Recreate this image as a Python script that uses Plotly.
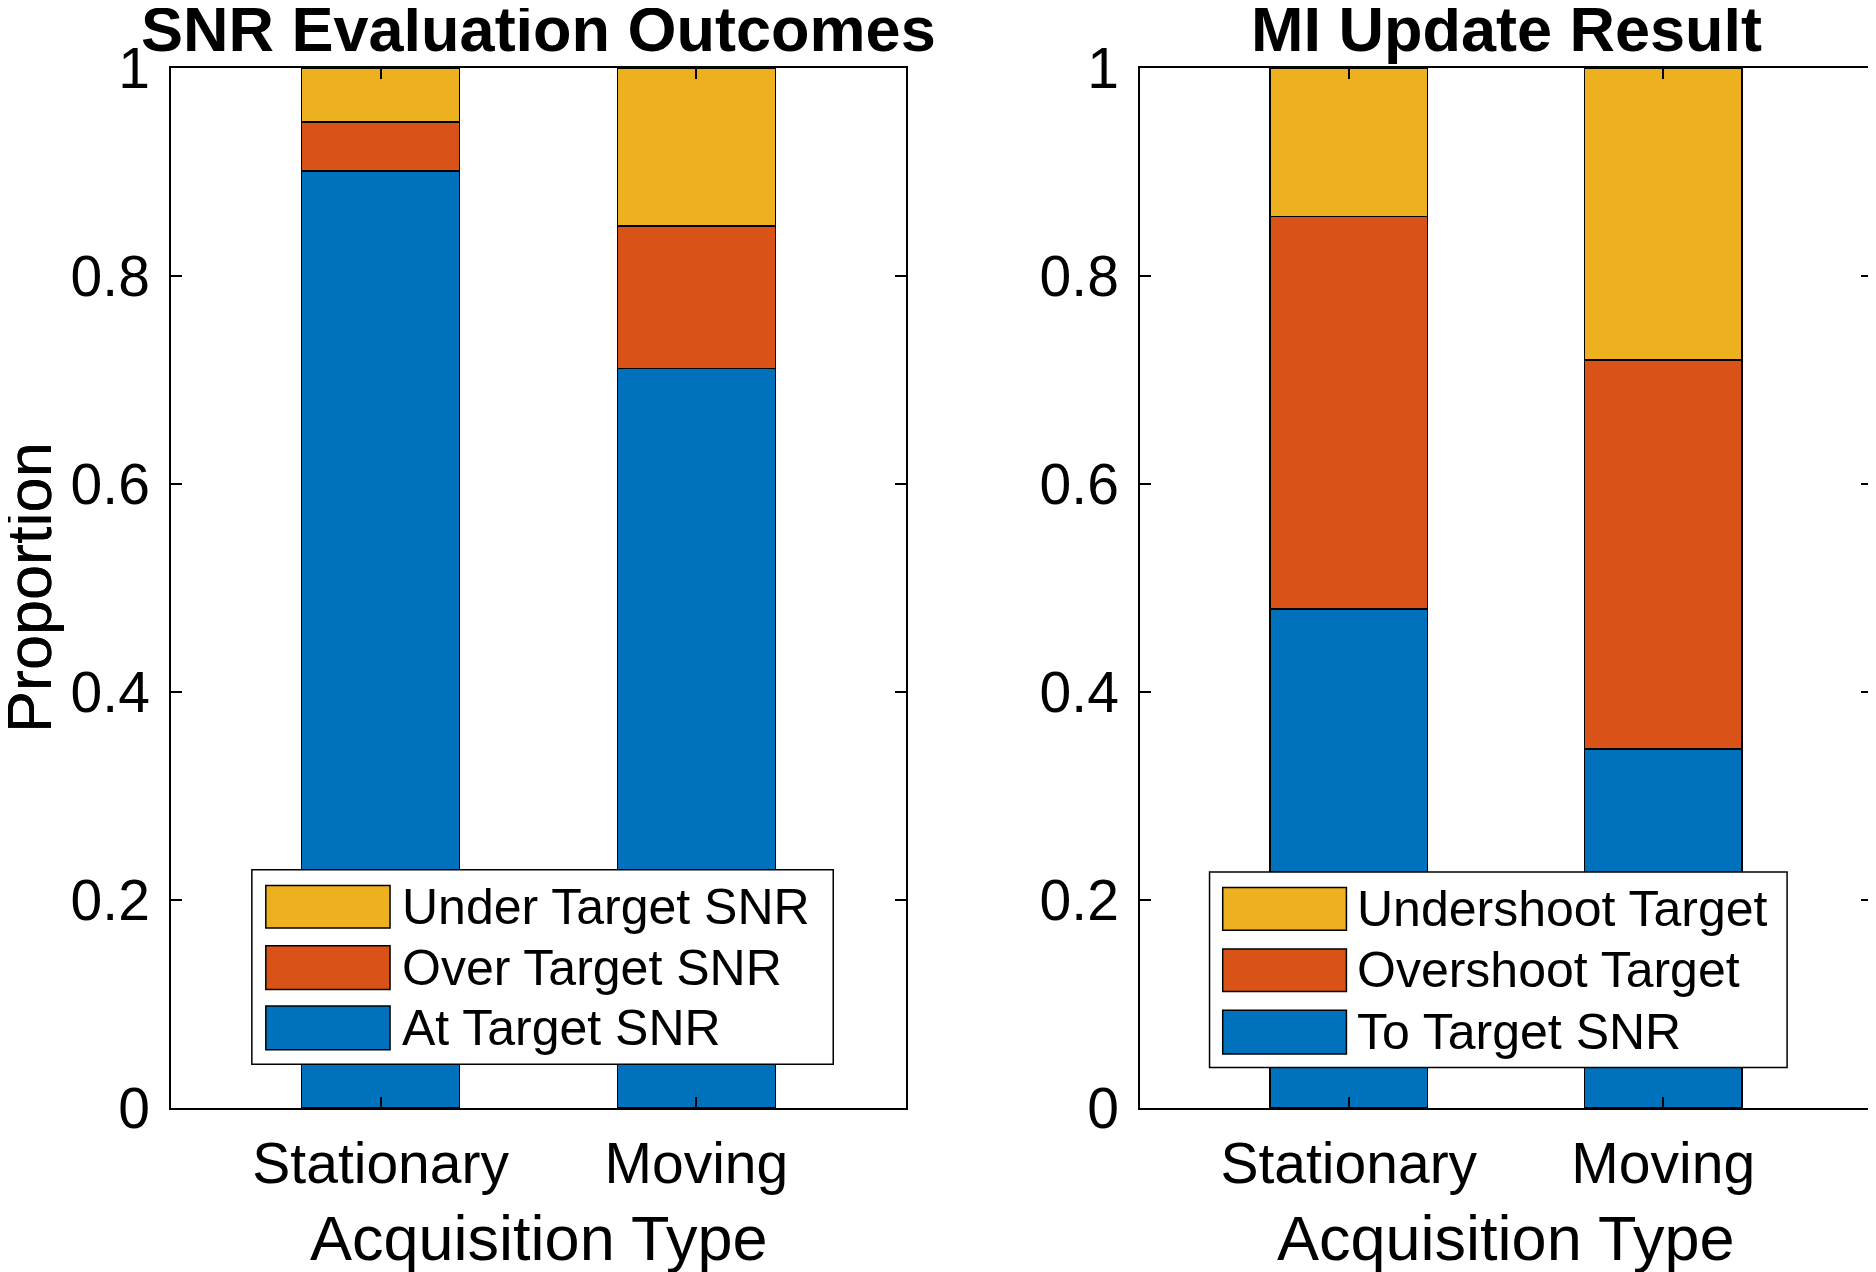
import plotly.graph_objects as go
from plotly.subplots import make_subplots

categories = ["Stationary", "Moving"]

# left panel: SNR evaluation outcomes (stacked proportions)
snr_at = [0.901, 0.711]
snr_over = [0.047, 0.137]
snr_under = [0.052, 0.152]
snr_names = ["At Target SNR", "Over Target SNR", "Under Target SNR"]

# right panel: MI update result
mi_to = [0.480, 0.345]
mi_over = [0.377, 0.374]
mi_under = [0.143, 0.281]
mi_names = ["To Target SNR", "Overshoot Target", "Undershoot Target"]

titles = ["SNR Evaluation Outcomes", "MI Update Result"]
x_title = "Acquisition Type"
y_title = "Proportion"
y_ticks = [0, 0.2, 0.4, 0.6, 0.8, 1]
y_ticktext = ["0", "0.2", "0.4", "0.6", "0.8", "1"]

colors = ["#0072BD", "#D95319", "#EDB120"]
FONT = "Liberation Sans, Arial, sans-serif"
OFF = 8  # page body margin
W, H = 1876 - OFF, 1272 - OFF

fig = make_subplots(rows=1, cols=2)

panels = [
    (1, [snr_at, snr_over, snr_under], snr_names),
    (2, [mi_to, mi_over, mi_under], mi_names),
]
for col, series, names in panels:
    for vals, name, c in zip(series, names, colors):
        fig.add_trace(go.Bar(x=categories, y=vals, name=name, width=0.5,
                             marker=dict(color=c, line=dict(color="black", width=1.5)),
                             showlegend=False), row=1, col=col)

# axes placement (pixels in the 1876x1272 window)
ax_px = [(171, 906), (1140, 1872)]
top_px, bot_px = 68, 1108
for i, (x0, x1) in enumerate(ax_px):
    n = "" if i == 0 else str(i + 1)
    fig.layout["xaxis" + n].update(domain=[(x0 - OFF) / W, min(1, (x1 - OFF) / W)])
    fig.layout["yaxis" + n].update(domain=[1 - (bot_px - OFF) / H, 1 - (top_px - OFF) / H])

axis_common = dict(showline=True, linecolor="black", linewidth=1.5, mirror="allticks",
                   ticks="inside", ticklen=11, tickwidth=1.5, tickcolor="black",
                   showgrid=False, zeroline=False, automargin=False,
                   tickfont=dict(family=FONT, size=57, color="black"))
fig.update_xaxes(range=[-0.664, 1.664], ticklabelstandoff=5, **axis_common)
fig.update_yaxes(range=[0, 1], tickvals=y_ticks, ticktext=y_ticktext,
                 ticklabelstandoff=8, **axis_common)

# legend geometry in axis-domain fractions per panel
leg = [
    dict(box=(0.110, 0.901, 0.042, 0.229), sw=(0.129, 0.298), tx=0.312,
         rows=[(0.173, 0.214), (0.114, 0.156), (0.056, 0.098)]),
    dict(box=(0.095, 0.884, 0.039, 0.227), sw=(0.113, 0.282), tx=0.294,
         rows=[(0.171, 0.212), (0.112, 0.153), (0.052, 0.094)]),
]

shapes, annots = [], []
for i, (col, series, names) in enumerate(panels):
    n = "" if i == 0 else str(i + 1)
    xr, yr = "x" + n + " domain", "y" + n + " domain"
    annots.append(dict(text="<b>" + titles[i] + "</b>", x=0.5, y=1, xref=xr, yref=yr,
                       xanchor="center", yanchor="bottom", yshift=2, showarrow=False,
                       font=dict(family=FONT, size=63, color="black")))
    annots.append(dict(text=x_title, x=0.5, y=0, xref=xr, yref=yr, xanchor="center",
                       yanchor="middle", yshift=-(1238 - bot_px), showarrow=False,
                       font=dict(family=FONT, size=63, color="black")))
    annots.append(dict(text=y_title, x=0, y=0.5, xref=xr, yref=yr, xanchor="center",
                       yanchor="middle", xshift=-(ax_px[i][0] - 29), textangle=-90,
                       showarrow=False, font=dict(family=FONT, size=63, color="black")))
    g = leg[i]
    bx0, bx1, by0, by1 = g["box"]
    shapes.append(dict(type="rect", xref=xr, yref=yr, x0=bx0, x1=bx1, y0=by0, y1=by1,
                       fillcolor="white", line=dict(color="black", width=1.5), layer="above"))
    # legend order top to bottom: under, over, at
    for (ry0, ry1), k in zip(g["rows"], [2, 1, 0]):
        shapes.append(dict(type="rect", xref=xr, yref=yr, x0=g["sw"][0], x1=g["sw"][1],
                           y0=ry0, y1=ry1, fillcolor=colors[k],
                           line=dict(color="black", width=1.5), layer="above"))
        annots.append(dict(text=names[k], x=g["tx"], y=(ry0 + ry1) / 2, xref=xr, yref=yr,
                           xanchor="left", yanchor="middle", showarrow=False,
                           font=dict(family=FONT, size=50, color="black")))

fig.update_layout(width=W, height=H, margin=dict(l=0, r=0, t=0, b=0),
                  barmode="stack", plot_bgcolor="white", paper_bgcolor="white",
                  shapes=shapes, annotations=annots, showlegend=False,
                  font=dict(family=FONT, color="black"))

fig.write_html("out.html")
